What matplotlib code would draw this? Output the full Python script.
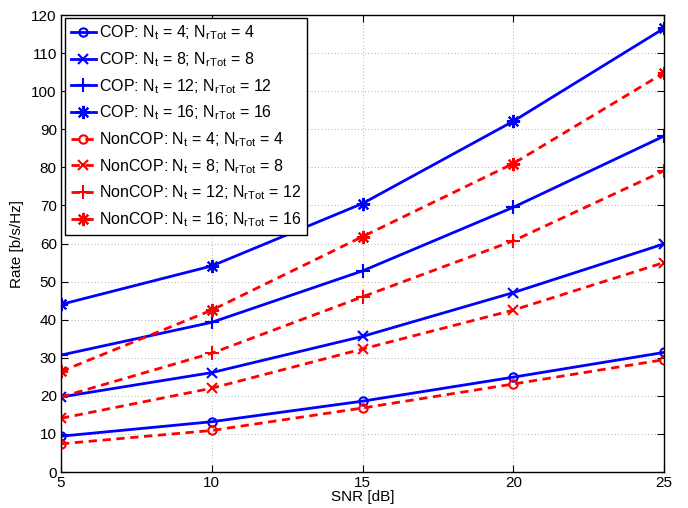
import matplotlib
matplotlib.use('Agg')
import matplotlib.pyplot as plt

plt.rcParams['font.family'] = ['Liberation Sans', 'DejaVu Sans']
plt.rcParams['mathtext.fontset'] = 'custom'
plt.rcParams['mathtext.rm'] = 'Liberation Sans'
plt.rcParams['mathtext.default'] = 'regular'
plt.rcParams['font.size'] = 11

snr = [5, 10, 15, 20, 25]
antennas = [4, 8, 12, 16]

cop_rate = [
    [9.4, 13.2, 18.6, 24.9, 31.4],
    [19.7, 26.1, 35.6, 47.1, 59.9],
    [30.7, 39.3, 52.8, 69.5, 88.2],
    [44.0, 54.1, 70.5, 92.1, 116.5],
]
noncop_rate = [
    [7.4, 10.9, 16.8, 23.1, 29.5],
    [14.1, 22.0, 32.3, 42.5, 55.0],
    [19.7, 31.2, 46.0, 60.7, 79.1],
    [26.4, 42.5, 61.8, 81.0, 104.8],
]

markers = ['o', 'x', '+', (8, 2, 0)]
msizes = [6, 6.5, 9.5, 9.5]

fig = plt.figure(figsize=(6.88, 5.08), dpi=100)
ax = fig.add_axes([61/688, 1-472/508, 603/688, 457/508])

for n, rate, m, ms in zip(antennas, cop_rate, markers, msizes):
    ax.plot(snr, rate, color='#0000ff', lw=2, marker=m, ms=ms, mew=1.5,
            mfc='none', label='COP: N$_{t}$ = %d; N$_{rTot}$ = %d' % (n, n))
for n, rate, m, ms in zip(antennas, noncop_rate, markers, msizes):
    ax.plot(snr, rate, color='#ff0000', lw=2, ls=(0, (3, 2)), marker=m, ms=ms,
            mew=1.5, mfc='none', label='NonCOP: N$_{t}$ = %d; N$_{rTot}$ = %d' % (n, n))

ax.set_xlim(5, 25)
ax.set_ylim(0, 120)
ax.set_xticks(snr)
ax.set_yticks(range(0, 121, 10))
ax.tick_params(direction='in', top=True, right=True, length=5, pad=3, labelsize=11)
ax.grid(True, ls=(0, (1, 3)), color='#999999', lw=0.6)
for s in ax.spines.values():
    s.set_linewidth(1.0)

ax.set_xlabel('SNR [dB]', labelpad=0)
ax.set_ylabel('Rate [b/s/Hz]', labelpad=5)

leg = ax.legend(loc='upper left', bbox_to_anchor=(4/603, 1-3/457), borderaxespad=0,
                fancybox=False, edgecolor='black', framealpha=1, handlelength=1.6,
                handletextpad=0.2, borderpad=0.35, labelspacing=0.5, fontsize=11.5)
leg.get_frame().set_linewidth(1.0)

fig.savefig('out.png', dpi=100)
